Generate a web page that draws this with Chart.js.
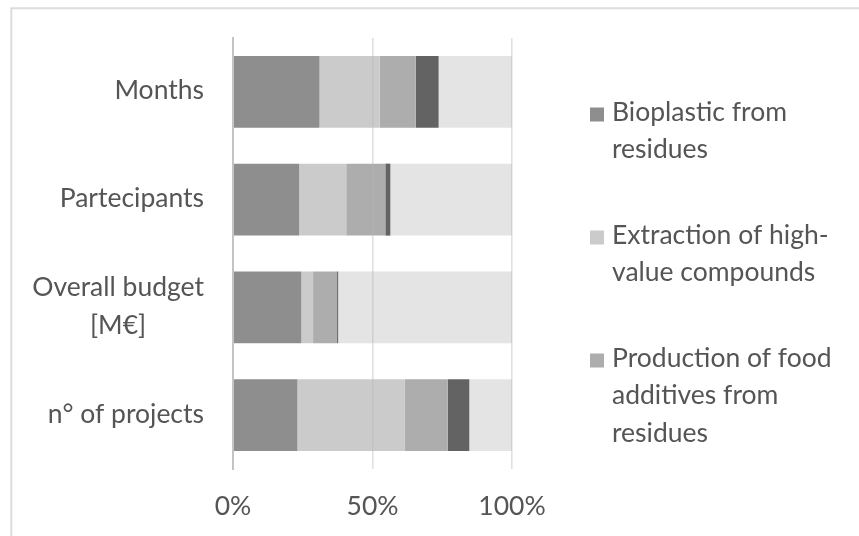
<!DOCTYPE html>
<html>
<head>
<meta charset="utf-8">
<script src="https://cdn.jsdelivr.net/npm/chart.js@4.4.1/dist/chart.umd.min.js"></script>
<style>
  html, body { margin: 0; padding: 0; background: #ffffff; }
  #wrap { width: 859px; height: 536px; }
</style>
</head>
<body>
<div id="wrap"><canvas id="chart" width="859" height="536"></canvas></div>
<script>
// Categories (multi-line entries are arrays of lines)
const categories = ['Months', 'Partecipants', ['Overall budget', '[M€]'], 'n° of projects'];

// Share of each category (%) per valorisation route
const seriesNames = [
  'Bioplastic from residues',
  'Extraction of high-value compounds',
  'Production of food additives from residues',
  'Category 4',
  'Category 5'
];
const bioplastic   = [31.0, 23.7, 24.5, 23.1];
const extraction   = [21.6, 16.9,  4.2, 38.5];
const foodAdditive = [12.9, 14.0,  8.6, 15.4];
const category4    = [ 8.2,  1.8,  0.4,  7.7];
const category5    = [26.3, 43.6, 62.3, 15.3];

const xTicks = [0, 50, 100];

const colors = ['#8e8e8e', '#cbcbcb', '#adadad', '#636363', '#e4e4e4'];
const legendCount = 3;
const FONT = 'Lato, "Open Sans", sans-serif';
const FSIZE = 26.5;
const TEXT = '#555555';

const seriesValues = [bioplastic, extraction, foodAdditive, category4, category5];

// Outer frame of the chart object
const framePlugin = {
  id: 'frame',
  beforeDraw(chart) {
    const ctx = chart.ctx;
    ctx.save();
    ctx.fillStyle = '#ffffff';
    ctx.fillRect(0, 0, chart.width, chart.height);
    ctx.strokeStyle = '#dcdcdc';
    ctx.lineWidth = 2;
    ctx.beginPath();
    ctx.moveTo(11.3, chart.height);
    ctx.lineTo(11.3, 8.3);
    ctx.lineTo(chart.width, 8.3);
    ctx.stroke();
    ctx.restore();
  }
};

// Category labels: right-aligned block, lines centred within it
const categoryLabelPlugin = {
  id: 'categoryLabels',
  afterDraw(chart) {
    const ctx = chart.ctx;
    const yScale = chart.scales.y;
    const right = chart.chartArea.left - 29;
    const lh = 38;
    ctx.save();
    ctx.font = FSIZE + 'px ' + FONT;
    ctx.fillStyle = TEXT;
    ctx.textBaseline = 'middle';
    ctx.textAlign = 'center';
    chart.data.labels.forEach((lab, i) => {
      const lines = Array.isArray(lab) ? lab : [lab];
      const w = Math.max(...lines.map(l => ctx.measureText(l).width));
      const cx = right - w / 2;
      const cy = yScale.getPixelForValue(i) - 1;
      const y0 = cy - (lines.length - 1) * lh / 2;
      lines.forEach((l, k) => ctx.fillText(l, cx, y0 + k * lh));
    });
    ctx.restore();
  }
};

function wrapText(ctx, text, maxW) {
  const tokens = text.match(/[^\s-]+-?/g);
  const lines = [];
  let cur = '';
  tokens.forEach(t => {
    const sep = cur === '' || cur.endsWith('-') ? '' : ' ';
    const test = cur + sep + t;
    if (cur !== '' && ctx.measureText(test).width > maxW) {
      lines.push(cur);
      cur = t;
    } else {
      cur = test;
    }
  });
  if (cur) lines.push(cur);
  return lines;
}

// Right-hand legend with wrapped entries
const legendPlugin = {
  id: 'sideLegend',
  afterDraw(chart) {
    const ctx = chart.ctx;
    const ca = chart.chartArea;
    ctx.save();
    ctx.font = FSIZE + 'px ' + FONT;
    ctx.textBaseline = 'middle';
    ctx.textAlign = 'left';
    const lh = 37.5, gap = 48, box = 14;
    const boxX = ca.right + 78, textX = ca.right + 100;
    const items = chart.data.datasets.slice(0, legendCount).map(ds => ({
      color: ds.backgroundColor,
      lines: wrapText(ctx, ds.label, 240)
    }));
    const totalLines = items.reduce((s, it) => s + it.lines.length, 0);
    const span = (totalLines - 1) * lh + (items.length - 1) * gap;
    let y = 272.5 - span / 2;
    items.forEach(it => {
      ctx.fillStyle = it.color;
      ctx.fillRect(boxX, y + 2.5 - box / 2, box, box);
      ctx.fillStyle = TEXT;
      it.lines.forEach((l, k) => ctx.fillText(l, textX, y + k * lh));
      y += (it.lines.length - 1) * lh + lh + gap;
    });
    ctx.restore();
  }
};

new Chart(document.getElementById('chart'), {
  type: 'bar',
  data: {
    labels: categories,
    datasets: seriesValues.map((vals, i) => ({
      label: seriesNames[i],
      data: vals,
      backgroundColor: colors[i],
      borderWidth: 0,
      categoryPercentage: 1,
      barPercentage: 0.668
    }))
  },
  options: {
    indexAxis: 'y',
    responsive: false,
    animation: false,
    devicePixelRatio: 1,
    layout: { padding: { left: 0, right: 347, top: 38, bottom: 0 } },
    plugins: {
      legend: { display: false },
      tooltip: { enabled: false }
    },
    scales: {
      x: {
        stacked: true,
        min: 0,
        max: 100,
        afterBuildTicks: s => { s.ticks = xTicks.map(v => ({ value: v })); },
        afterFit: s => { s.height = 67; },
        ticks: {
          callback: v => v + '%',
          font: { family: FONT, size: FSIZE },
          color: TEXT,
          padding: 22,
          maxRotation: 0
        },
        grid: { color: 'rgba(180,180,180,0.42)', lineWidth: 1.6, drawTicks: false, z: 1 },
        border: { display: false }
      },
      y: {
        stacked: true,
        afterFit: s => { s.width = 233; },
        ticks: { display: false },
        grid: { display: false, drawTicks: false },
        border: { display: true, color: '#c4c4c4', width: 2, z: 2 }
      }
    }
  },
  plugins: [framePlugin, categoryLabelPlugin, legendPlugin]
});
</script>
</body>
</html>
